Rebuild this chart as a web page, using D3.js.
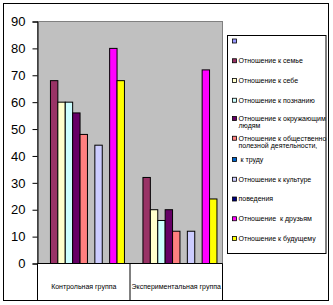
<!DOCTYPE html>
<html>
<head>
<meta charset="utf-8">
<script src="https://cdn.jsdelivr.net/npm/d3@7"></script>
<style>
    body { margin: 0; background: #fff; }
    text { font-family: 'Liberation Sans', Arial, sans-serif; }
</style>
</head>
<body>
<div id="chart"></div>
<script>

// Data
var categories = [ 'Контрольная группа', 'Экспериментальная группа' ];

var series_names = [
    '',
    'Отношение к семье',
    'Отношение к себе',
    'Отношение к познанию',
    'Отношение к окружающим людям',
    'Отношение к общественно полезной деятельности,',
    ' к труду',
    'Отношение к культуре',
    'поведения',
    'Отношение  к друзьям',
    'Отношение к будущему'
];

// legend lines as shown (long names wrap)
var legend_lines = [
    [ '' ],
    [ 'Отношение к семье' ],
    [ 'Отношение к себе' ],
    [ 'Отношение к познанию' ],
    [ 'Отношение к окружающим', 'людям' ],
    [ 'Отношение к общественно', 'полезной деятельности,' ],
    [ ' к труду' ],
    [ 'Отношение к культуре' ],
    [ 'поведения' ],
    [ 'Отношение  к друзьям' ],
    [ 'Отношение к будущему' ]
];

var control_values = [ 0, 68, 60, 60, 56, 48, 0, 44, 0, 80, 68 ];
var experiment_values = [ 0, 32, 20, 16, 20, 12, 0, 12, 0, 72, 24 ];

var y_ticks = [ 0, 10, 20, 30, 40, 50, 60, 70, 80, 90 ];

var colors = [ '#9999FF', '#993366', '#FFFFCC', '#CCFFFF', '#660066', '#FF8080',
               '#0066CC', '#CCCCFF', '#000080', '#FF00FF', '#FFFF00' ];

var W = 333, H = 305;

// Plot area
var plot = { left: 37.5, right: 222.5, top: 21.5, bottom: 263.5 };

var svg = d3.select( '#chart' )
            .append( 'svg' )
            .attr( 'width', W )
            .attr( 'height', H );

// Outer frame
svg.append( 'rect' )
   .attr( 'x', 3.5 )
   .attr( 'y', 3.5 )
   .attr( 'width', 325 )
   .attr( 'height', 297 )
   .attr( 'fill', '#fff' )
   .attr( 'stroke', '#000' );

// Scales
var x = d3.scaleBand()
          .domain( categories )
          .range( [ plot.left, plot.right ] );

var x_series = d3.scaleBand()
                 .domain( d3.range( series_names.length ) )
                 .range( [ 0, x.bandwidth() ] )
                 .paddingOuter( 0.75 );

var y = d3.scaleLinear()
          .domain( [ 0, 90 ] )
          .range( [ plot.bottom, plot.top ] );

// Grey background
svg.append( 'rect' )
   .attr( 'x', plot.left )
   .attr( 'y', plot.top )
   .attr( 'width', plot.right - plot.left )
   .attr( 'height', plot.bottom - plot.top )
   .attr( 'fill', '#C0C0C0' )
   .attr( 'stroke', '#808080' );

// Bars
var groups = [ control_values, experiment_values ];

groups.forEach( function ( values, g ) {

    var data = values.map( function ( v, i ) { return { i: i, v: v }; } )
                     .filter( function ( d ) { return d.v > 0; } );

    svg.append( 'g' )
       .selectAll( 'rect' )
       .data( data )
       .enter()
       .append( 'rect' )
       .attr( 'x', function ( d ) { return x( categories[g] ) + x_series( d.i ); } )
       .attr( 'y', function ( d ) { return y( d.v ); } )
       .attr( 'width', x_series.bandwidth() )
       .attr( 'height', function ( d ) { return y( 0 ) - y( d.v ); } )
       .attr( 'fill', function ( d ) { return colors[d.i]; } )
       .attr( 'stroke', '#000' )
       .attr( 'stroke-width', 1 );

} );

// Y axis
var y_axis = svg.append( 'g' )
                .attr( 'transform', 'translate(' + plot.left + ',0)' )
                .call( d3.axisLeft( y ).tickValues( y_ticks ).tickSize( 5 ).tickPadding( 7 ) );

y_axis.select( '.domain' ).attr( 'stroke', '#000' );
y_axis.selectAll( 'text' )
      .attr( 'font-family', "'Liberation Sans', Arial, sans-serif" )
      .attr( 'font-size', '13px' )
      .attr( 'fill', '#000' );

// Category box under the plot
svg.append( 'line' )
   .attr( 'x1', plot.left )
   .attr( 'x2', plot.right )
   .attr( 'y1', plot.bottom )
   .attr( 'y2', plot.bottom )
   .attr( 'stroke', '#000' );

var separators = [ plot.left ].concat( categories.map( function ( c ) { return x( c ) + x.bandwidth(); } ) );

svg.selectAll( '.sep' )
   .data( separators )
   .enter()
   .append( 'line' )
   .attr( 'class', 'sep' )
   .attr( 'x1', function ( d ) { return d; } )
   .attr( 'x2', function ( d ) { return d; } )
   .attr( 'y1', plot.bottom )
   .attr( 'y2', 300.5 )
   .attr( 'stroke', '#000' );

svg.selectAll( '.cat' )
   .data( categories )
   .enter()
   .append( 'text' )
   .attr( 'class', 'cat' )
   .attr( 'x', function ( d ) { return x( d ) + x.bandwidth() / 2; } )
   .attr( 'y', 289 )
   .attr( 'text-anchor', 'middle' )
   .attr( 'font-size', '7px' )
   .attr( 'fill', '#000' )
   .text( function ( d ) { return d; } );

// Legend
var legend_box = { x: 227.5, y: 35.5, w: 98.5, h: 218 };

svg.append( 'rect' )
   .attr( 'x', legend_box.x )
   .attr( 'y', legend_box.y )
   .attr( 'width', legend_box.w )
   .attr( 'height', legend_box.h )
   .attr( 'fill', '#fff' )
   .attr( 'stroke', '#000' );

var legend = svg.selectAll( '.legend' )
                .data( legend_lines )
                .enter()
                .append( 'g' )
                .attr( 'class', 'legend' )
                .attr( 'transform', function ( d, i ) {
                    var cy = 41 + i * 19.75 - ( d.length > 1 ? 1.5 : 0 );
                    return 'translate(0,' + cy + ')';
                } );

legend.append( 'rect' )
      .attr( 'x', 232.5 )
      .attr( 'y', -2 )
      .attr( 'width', 4 )
      .attr( 'height', 4 )
      .attr( 'fill', function ( d, i ) { return colors[i]; } )
      .attr( 'stroke', '#000' )
      .attr( 'stroke-width', 0.8 );

legend.selectAll( 'text' )
      .data( function ( d ) { return d; } )
      .enter()
      .append( 'text' )
      .attr( 'x', 238.5 )
      .attr( 'y', function ( d, j ) { return j * 7.5; } )
      .attr( 'dy', '0.35em' )
      .attr( 'font-size', '7px' )
      .attr( 'fill', '#000' )
      .attr( 'xml:space', 'preserve' )
      .text( function ( d ) { return d; } );

</script>
</body>
</html>
